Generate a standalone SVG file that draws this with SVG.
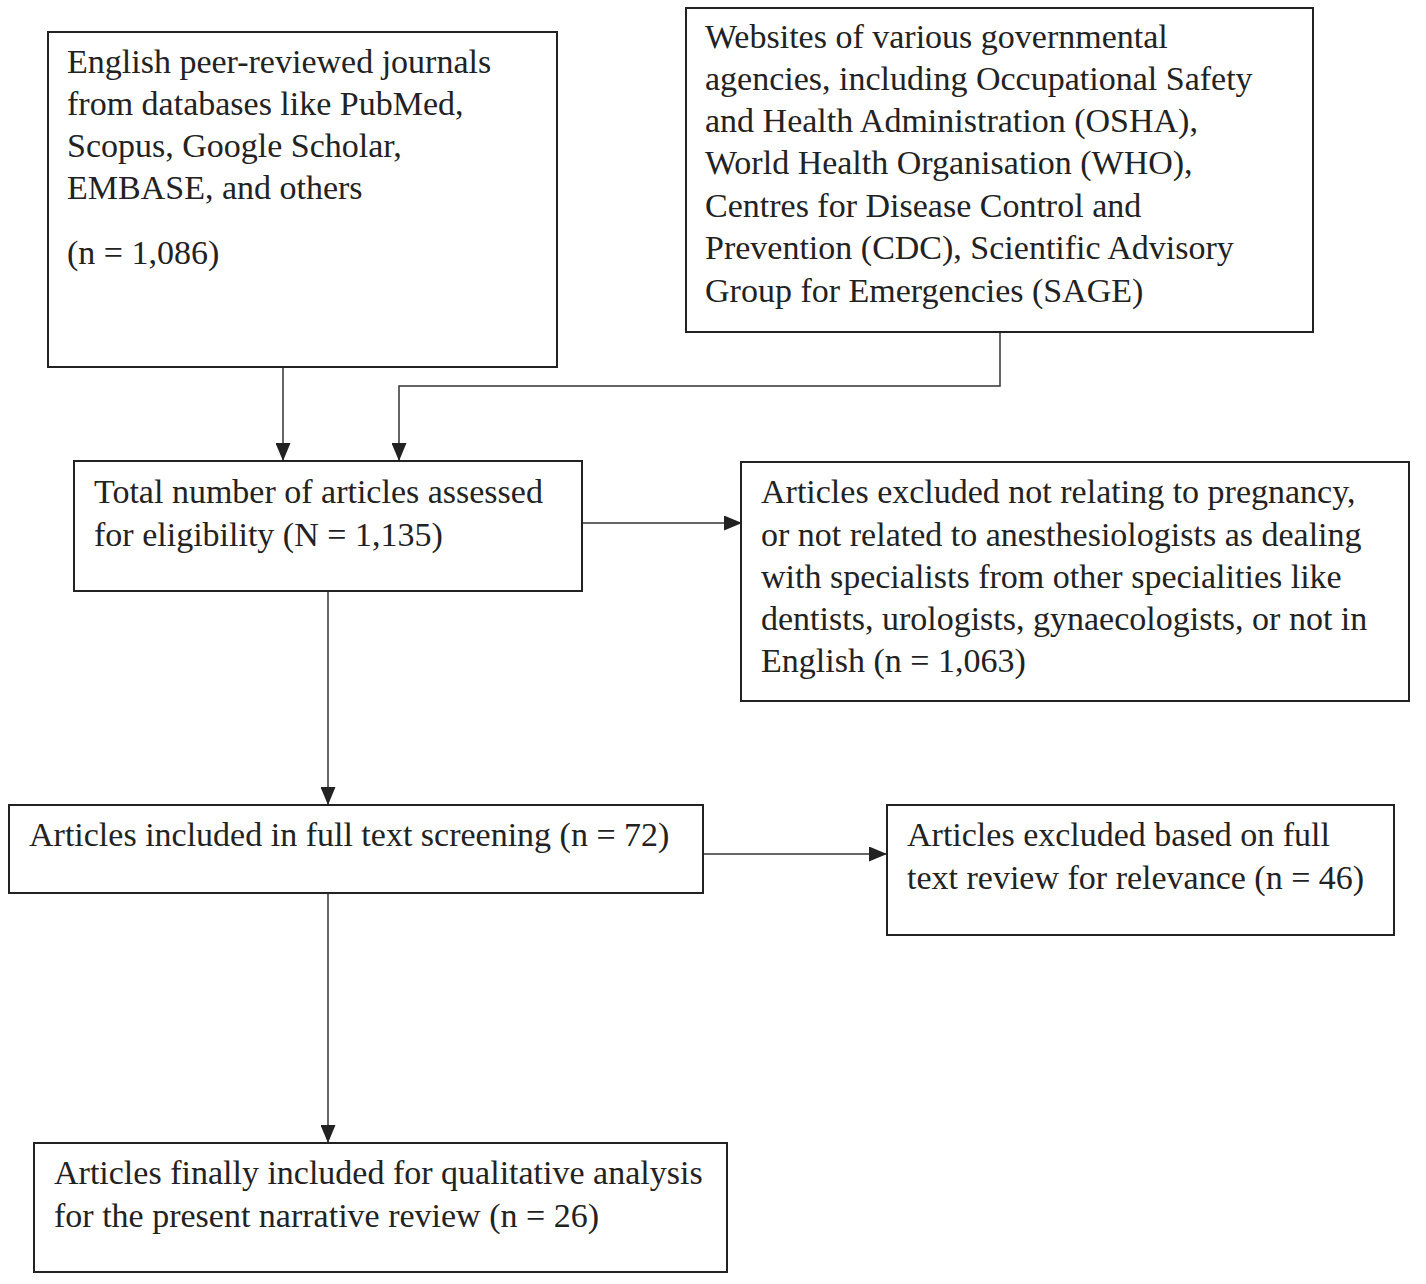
<svg xmlns="http://www.w3.org/2000/svg" width="1426" height="1284" viewBox="0 0 1426 1284">
<defs>
<marker id="arr" markerWidth="18" markerHeight="15" refX="18" refY="7.5" orient="auto" markerUnits="userSpaceOnUse">
<path d="M0,0 L18,7.5 L0,15 Z" fill="#222"/>
</marker>
<style>
.box{fill:#fff;stroke:#222;stroke-width:2}
.t{font-family:"Liberation Serif","Times New Roman",serif;font-size:34px;fill:#222}
.c{fill:none;stroke:#333;stroke-width:1.5}
</style>
</defs>
<rect width="1426" height="1284" fill="#fff"/>
<g id="connectors">
<path class="c" d="M283,367 V461" marker-end="url(#arr)"/>
<path class="c" d="M1000,332 V386 H399 V461" marker-end="url(#arr)"/>
<path class="c" d="M582,523 H742" marker-end="url(#arr)"/>
<path class="c" d="M328,591 V805" marker-end="url(#arr)"/>
<path class="c" d="M703,854 H887" marker-end="url(#arr)"/>
<path class="c" d="M328,893 V1143" marker-end="url(#arr)"/>
</g>
<g id="n1">
<rect class="box" x="48" y="32" width="509" height="335"/>
<text class="t"><tspan x="67" y="73">English peer-reviewed journals</tspan><tspan x="67" y="115">from databases like PubMed,</tspan><tspan x="67" y="157">Scopus, Google Scholar,</tspan><tspan x="67" y="199">EMBASE, and others</tspan><tspan x="67" y="264">(n = 1,086)</tspan></text>
</g>
<g id="n2">
<rect class="box" x="686" y="8" width="627" height="324"/>
<text class="t"><tspan x="705" y="48">Websites of various governmental</tspan><tspan x="705" y="90">agencies, including Occupational Safety</tspan><tspan x="705" y="132">and Health Administration (OSHA),</tspan><tspan x="705" y="174">World Health Organisation (WHO),</tspan><tspan x="705" y="217">Centres for Disease Control and</tspan><tspan x="705" y="259">Prevention (CDC), Scientific Advisory</tspan><tspan x="705" y="302">Group for Emergencies (SAGE)</tspan></text>
</g>
<g id="n3">
<rect class="box" x="74" y="461" width="508" height="130"/>
<text class="t"><tspan x="94" y="503">Total number of articles assessed</tspan><tspan x="94" y="546">for eligibility (N = 1,135)</tspan></text>
</g>
<g id="n4">
<rect class="box" x="741" y="462" width="668" height="239"/>
<text class="t"><tspan x="761" y="503">Articles excluded not relating to pregnancy,</tspan><tspan x="761" y="546">or not related to anesthesiologists as dealing</tspan><tspan x="761" y="588">with specialists from other specialities like</tspan><tspan x="761" y="630">dentists, urologists, gynaecologists, or not in</tspan><tspan x="761" y="672">English (n = 1,063)</tspan></text>
</g>
<g id="n5">
<rect class="box" x="9" y="805" width="694" height="88"/>
<text class="t"><tspan x="29" y="846">Articles included in full text screening (n = 72)</tspan></text>
</g>
<g id="n6">
<rect class="box" x="887" y="805" width="507" height="130"/>
<text class="t"><tspan x="907" y="846">Articles excluded based on full</tspan><tspan x="907" y="889">text review for relevance (n = 46)</tspan></text>
</g>
<g id="n7">
<rect class="box" x="34" y="1143" width="693" height="129"/>
<text class="t"><tspan x="54" y="1184">Articles finally included for qualitative analysis</tspan><tspan x="54" y="1227">for the present narrative review (n = 26)</tspan></text>
</g>
</svg>
